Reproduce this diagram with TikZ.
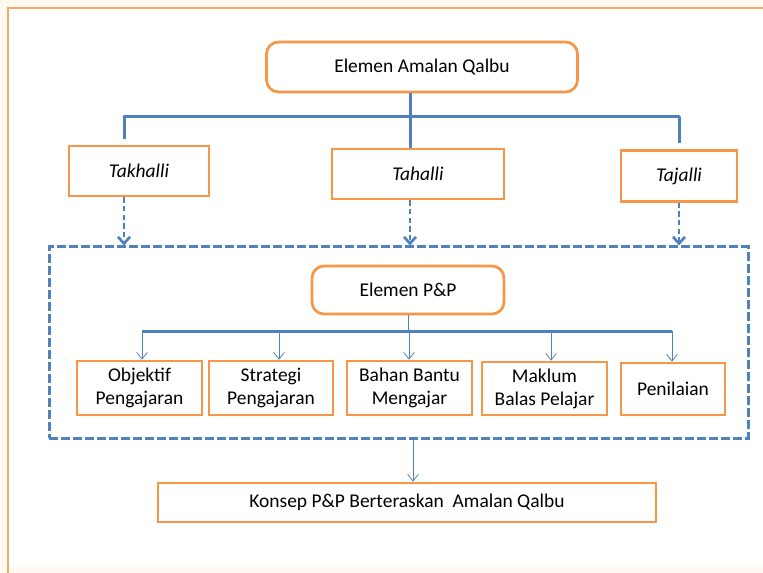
\documentclass[tikz,border=0pt]{standalone}
\usepackage{fontspec}
\setmainfont{Carlito}
\usetikzlibrary{positioning,arrows.meta}

\definecolor{qorange}{HTML}{F79646}
\definecolor{qblue}{HTML}{4F81BD}
\definecolor{qcream}{HTML}{FFF9EF}
\definecolor{qframe}{HTML}{F5AA6C}

\tikzset{
	box/.style={draw=qorange, line width=2pt, fill=white, inner sep=0pt,
		align=center, font=\fontsize{14.6}{17.3}\selectfont},
	roundbox/.style={box, rounded corners=9pt},
	group/.style={draw=qblue, line width=2.25pt, dash pattern=on 6.5pt off 2.5pt, inner sep=0pt},
	bar/.style={draw=qblue, line width=2.25pt},
	dasharrow/.style={draw=qblue, line width=2pt, dash pattern=on 4pt off 2.5pt,
		-{Straight Barb[length=5pt,width=9pt]}},
	thinarrow/.style={draw=qblue, line width=0.6pt, -{Straight Barb[length=5pt,width=8pt]}},
}

\begin{document}
\begin{tikzpicture}[x=0.75pt, y=-0.75pt]
	\useasboundingbox (0,0) rectangle (763,573);
	\fill[qcream] (0,0) rectangle (763,573);
	\fill[white] (8,8) rectangle (763,567);
	\draw[qframe, line width=1.5pt] (763,8) -- (8,8) -- (8,573);

	% amalan qalbu
	\node[roundbox, minimum width=233.25pt, minimum height=37.5pt] (qalbu) at (422,67)
		{Elemen Amalan Qalbu};
	\node[box, minimum width=105pt, minimum height=37.5pt] (takhalli) at (139,171)
		{\itshape Takhalli};
	\node[box, minimum width=129pt, minimum height=37.5pt] (tahalli) at (418,174)
		{\itshape Tahalli};
	\node[box, minimum width=87pt, minimum height=38.25pt] (tajalli) at (679,176)
		{\itshape Tajalli};

	\coordinate (barL) at (124,117);
	\coordinate (barM) at (410,117);
	\coordinate (barR) at (679,117);
	\draw[bar, line cap=round] (barL) -- (barR);
	\draw[bar, shorten >=4.5pt] (barL) -- (barL |- takhalli.north);
	\draw[bar, shorten >=4.5pt] (barR) -- (barR |- tajalli.north);
	\draw[bar] (qalbu.south -| barM) -- (tahalli.north -| barM);

	% elemen P&P
	\node[group, minimum width=524.25pt, minimum height=143.25pt] (pnp) at (398.5,342.5) {};
	\draw[dasharrow] (takhalli.south -| barL) -- (pnp.north -| barL);
	\draw[dasharrow] (tahalli.south -| barM) -- (pnp.north -| barM);
	\draw[dasharrow] (tajalli.south -| barR) -- (pnp.north -| barR);

	\node[roundbox, minimum width=144pt, minimum height=36pt] (elemen) at (408,290)
		{Elemen P\&P};
	\node[box, minimum width=93.75pt, minimum height=40.5pt] (obj) at (139.5,388)
		{Objektif\\Pengajaran};
	\node[box, minimum width=93pt, minimum height=40.5pt] (str) at (271,388)
		{Strategi\\Pengajaran};
	\node[box, minimum width=93.75pt, minimum height=40.5pt] (bahan) at (409.5,388)
		{Bahan Bantu\\Mengajar};
	\node[box, minimum width=93.75pt, minimum height=39.75pt] (maklum) at (544.5,388.5)
		{Maklum\\Balas Pelajar};
	\node[box, minimum width=78pt, minimum height=39pt] (nilai) at (673,389)
		{Penilaian};

	\coordinate (rowL) at (142,331);
	\coordinate (rowR) at (672,331);
	\draw[bar] (rowL) -- (rowR);
	\draw[draw=qblue, line width=0.6pt] (elemen.south) -- (elemen.south |- rowL);
	\foreach \n/\x in {obj/142, str/279, bahan/409, maklum/551, nilai/672} {
		\coordinate (t\n) at (\x,331);
		\draw[thinarrow] (t\n) -- (t\n |- \n.north);
	}

	% konsep
	\node[box, minimum width=373.5pt, minimum height=29.25pt] (konsep) at (407,502.5)
		{Konsep P\&P Berteraskan\ \ Amalan Qalbu};
	\coordinate (down) at (413,438);
	\draw[thinarrow] (down) -- (down |- konsep.north);
\end{tikzpicture}
\end{document}
